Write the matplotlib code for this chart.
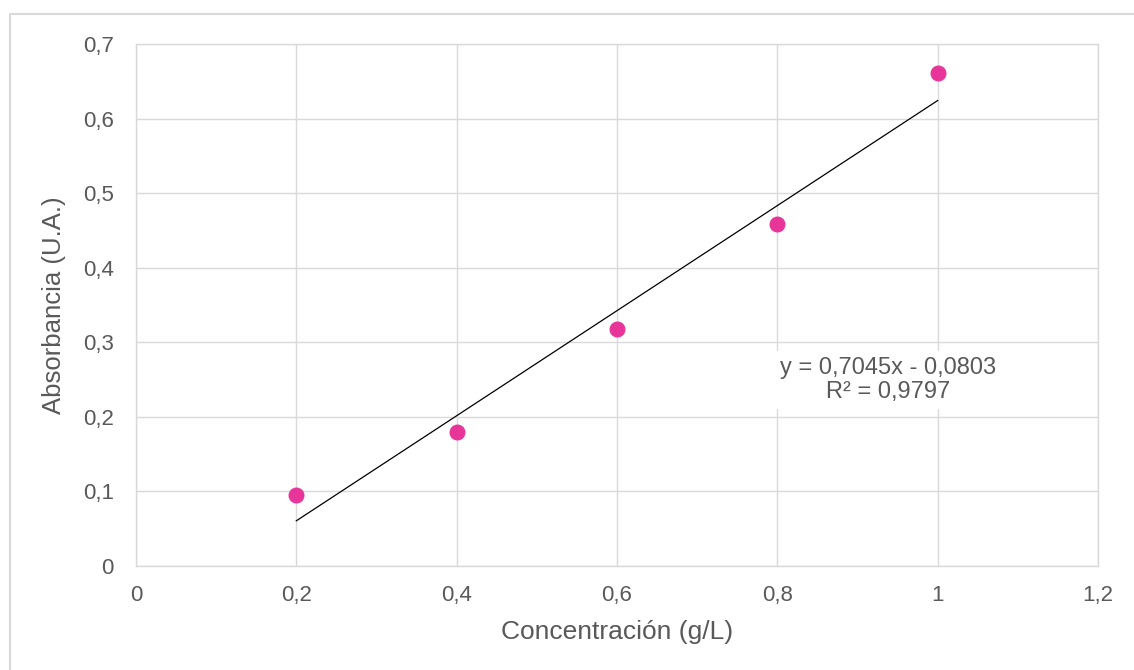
import matplotlib.pyplot as plt
import numpy as np
from matplotlib.patches import Rectangle

plt.rcParams['font.family'] = ['Liberation Sans', 'DejaVu Sans']

concentration = [0.2, 0.4, 0.6, 0.8, 1.0]
absorbance = [0.095, 0.18, 0.318, 0.459, 0.661]
slope = 0.7045
intercept = -0.0803
r_squared = 0.9797

x_ticks = [0, 0.2, 0.4, 0.6, 0.8, 1.0, 1.2]
x_labels = ["0", "0,2", "0,4", "0,6", "0,8", "1", "1,2"]
y_ticks = [0, 0.1, 0.2, 0.3, 0.4, 0.5, 0.6, 0.7]
y_labels = ["0", "0,1", "0,2", "0,3", "0,4", "0,5", "0,6", "0,7"]

W, H = 1134, 670
fig = plt.figure(figsize=(W / 100, H / 100), dpi=100)
ax = fig.add_axes([136 / W, 1 - 566 / H, (1098 - 136) / W, (566 - 44) / H])

# outer chart frame (runs off right/bottom edge)
fig.patches.append(Rectangle((10 / W, -0.05), 1.2, 1 - 14 / H + 0.05,
                             transform=fig.transFigure, fill=False,
                             edgecolor="#d9d9d9", linewidth=1.5))

grid_color = "#d9d9d9"
text_color = "#595959"

ax.set_xlim(0, 1.2)
ax.set_ylim(0, 0.7)
ax.set_xticks(x_ticks)
ax.set_xticklabels(x_labels)
ax.set_yticks(y_ticks)
ax.set_yticklabels(y_labels)
ax.grid(True, color=grid_color, linewidth=1)
ax.set_axisbelow(True)
for s in ax.spines.values():
    s.set_color(grid_color)
    s.set_linewidth(1)
ax.tick_params(length=0, labelsize=16, colors=text_color)
ax.tick_params(axis="y", pad=16)
ax.tick_params(axis="x", pad=14)

fit_x = np.array([concentration[0], concentration[-1]])
ax.plot(fit_x, slope * fit_x + intercept, color="black", linewidth=0.9, zorder=2)
ax.plot(concentration, absorbance, "o", color="#e8359a", markersize=10.5, zorder=3)

eq = f"y = {slope:.4f}x - {abs(intercept):.4f}".replace(".", ",")
r2 = f"R² = {r_squared:.4f}".replace(".", ",")
ax.text(0.938, 0.2494, eq + "\n" + r2, ha="center", va="center", fontsize=17,
        color=text_color, linespacing=1.15,
        bbox=dict(facecolor="white", edgecolor="none", pad=4), zorder=4)

ax.set_xlabel("Concentración (g/L)", fontsize=19, color=text_color, labelpad=10)
ax.set_ylabel("Absorbancia (U.A.)", fontsize=18.5, color=text_color, labelpad=12)

fig.savefig("out.png", dpi=100)
